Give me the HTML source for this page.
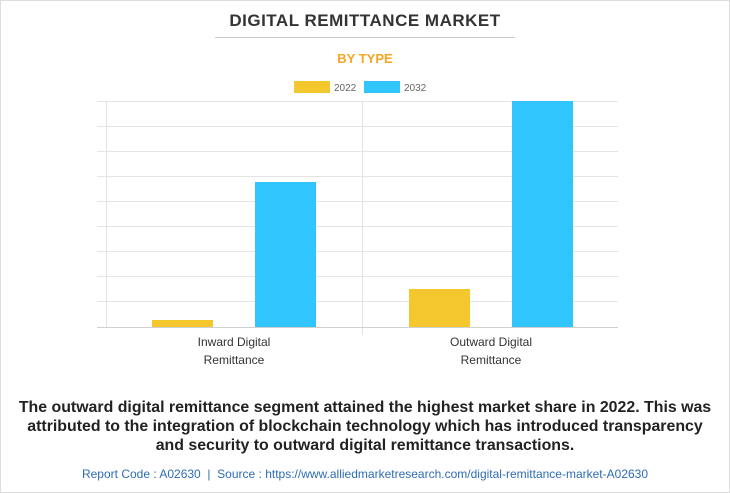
<!DOCTYPE html>
<html><head><style>
body{margin:0;width:730px;height:493px;background:#fff;font-family:"Liberation Sans",sans-serif;position:relative;overflow:hidden}
.a{position:absolute}
</style></head><body>
<div class="a" style="left:0;right:0;border:1px solid #ddd;top:0;bottom:0;box-sizing:border-box;width:730px;height:493px"></div>
<div class="a" style="left:0;width:730px;top:11px;text-align:center;font-weight:bold;font-size:17px;color:#333;letter-spacing:0.5px">DIGITAL REMITTANCE MARKET</div>
<div class="a" style="left:215px;width:300px;top:37px;border-top:1px solid #ccc"></div>
<div class="a" style="left:0;width:730px;top:51px;text-align:center;font-weight:bold;font-size:13px;color:#f5a623">BY TYPE</div>
<svg class="a" style="left:0;top:0" width="730" height="493">
<rect x="294" y="81" width="36" height="12" fill="#f4c72f"/>
<text x="334" y="91" font-size="10" fill="#666" font-family="Liberation Sans">2022</text>
<rect x="364" y="81" width="36" height="12" fill="#31c5fe"/>
<text x="404" y="91" font-size="10" fill="#666" font-family="Liberation Sans">2032</text>
<g stroke="#e4e4e4" stroke-width="1">
<line x1="97" x2="618" y1="101.5" y2="101.5"/><line x1="97" x2="618" y1="126.5" y2="126.5"/>
<line x1="97" x2="618" y1="151.5" y2="151.5"/><line x1="97" x2="618" y1="176.5" y2="176.5"/>
<line x1="97" x2="618" y1="201.5" y2="201.5"/><line x1="97" x2="618" y1="226.5" y2="226.5"/>
<line x1="97" x2="618" y1="251.5" y2="251.5"/><line x1="97" x2="618" y1="276.5" y2="276.5"/>
<line x1="97" x2="618" y1="301.5" y2="301.5"/>
<line x1="106.5" x2="106.5" y1="101" y2="327"/><line x1="362.5" x2="362.5" y1="101" y2="335"/>
</g>
<line x1="97" x2="618" y1="327.5" y2="327.5" stroke="#d0d0d0"/>
<rect x="152" y="320" width="61" height="7" fill="#f4c72f"/>
<rect x="255" y="182" width="61" height="145" fill="#31c5fe"/>
<rect x="409" y="289" width="61" height="38" fill="#f4c72f"/>
<rect x="512" y="101" width="61" height="226" fill="#31c5fe"/>
<g font-size="12" fill="#333" text-anchor="middle" font-family="Liberation Sans">
<text x="234" y="346">Inward Digital</text><text x="234" y="364">Remittance</text>
<text x="491" y="346">Outward Digital</text><text x="491" y="364">Remittance</text>
</g>
</svg>
<div class="a" style="left:0;width:730px;top:398px;text-align:center;font-weight:bold;font-size:15.9px;line-height:19px;color:#222">The outward digital remittance segment attained the highest market share in 2022. This was<br>attributed to the integration of blockchain technology which has introduced transparency<br>and security to outward digital remittance transactions.</div>
<div class="a" style="left:0;width:730px;top:467px;text-align:center;font-size:12px;color:#2e6db4">Report Code : A02630 &nbsp;|&nbsp; Source : https://www.alliedmarketresearch.com/digital-remittance-market-A02630</div>
</body></html>
